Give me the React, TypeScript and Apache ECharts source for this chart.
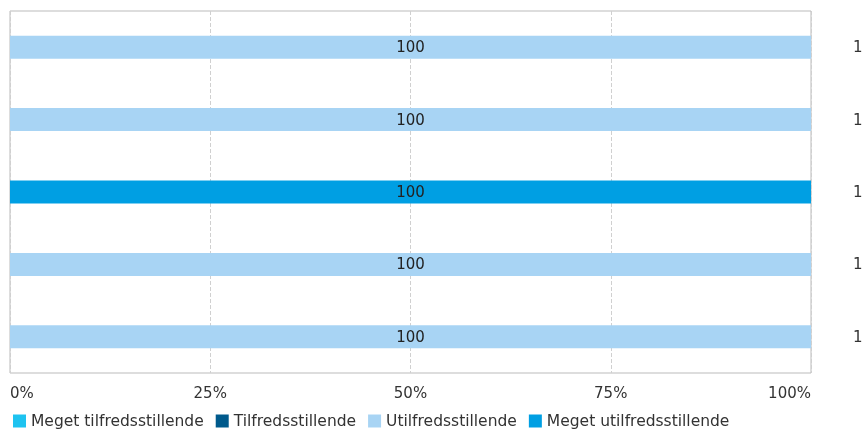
import React, { useEffect, useRef } from "react";
import * as echarts from "echarts";

const categories = ["Spørgsmål 1", "Spørgsmål 2", "Spørgsmål 3", "Spørgsmål 4", "Spørgsmål 5"];
const seriesNames = ["Meget tilfredsstillende", "Tilfredsstillende", "Utilfredsstillende", "Meget utilfredsstillende"];
const megetTilfreds = [0, 0, 0, 0, 0];
const tilfreds = [0, 0, 0, 0, 0];
const utilfreds = [100, 100, 0, 100, 100];
const megetUtilfreds = [0, 0, 100, 0, 0];
const counts = ["1", "1", "1", "1", "1"];
const xTicks = [0, 25, 50, 75, 100];
const colors = ["#1ec3f0", "#005a8c", "#a8d4f4", "#009fe3"];

export default function App() {
  const ref = useRef<HTMLDivElement>(null);
  useEffect(() => {
    if (!ref.current) return;
    const chart = echarts.init(ref.current, null, { renderer: "svg" });
    const values = [megetTilfreds, tilfreds, utilfreds, megetUtilfreds];
    chart.setOption({
      animation: false,
      color: colors,
      textStyle: { fontFamily: "DejaVu Sans" },
      grid: {
        left: 10, right: 54, top: 11, bottom: 57,
        containLabel: false, outerBoundsMode: "none",
        show: true, borderColor: "#bbbbbb", borderWidth: 1,
      },
      legend: {
        top: 408,
        left: 8,
        itemWidth: 13,
        itemHeight: 13,
        itemGap: 12,
        icon: "rect",
        textStyle: { fontSize: 15.5, color: "#333", fontFamily: "DejaVu Sans" },
        data: seriesNames,
      },
      xAxis: {
        type: "value",
        min: xTicks[0],
        max: xTicks[xTicks.length - 1],
        interval: 25,
        axisLine: { show: false },
        axisTick: { show: false },
        splitLine: { show: true, lineStyle: { type: "dashed", color: "#d0d0d0" } },
        axisLabel: {
          fontSize: 15, color: "#333", margin: 12, fontFamily: "DejaVu Sans",
          alignMinLabel: "left", alignMaxLabel: "right",
          formatter: (v: number) => (xTicks.includes(v) ? v + "%" : ""),
        },
      },
      yAxis: [
        {
          type: "category",
          data: categories,
          inverse: true,
          axisLine: { show: false },
          axisTick: { show: false },
          axisLabel: { show: false },
        },
        {
          type: "category",
          data: counts,
          inverse: true,
          position: "right",
          axisLine: { show: false },
          axisTick: { show: false },
          axisLabel: { show: true, margin: 42, fontSize: 15, color: "#333", fontFamily: "DejaVu Sans" },
        },
      ],
      series: seriesNames.map((name, i) => ({
        name,
        type: "bar",
        stack: "total",
        barWidth: 23,
        data: values[i],
        label: {
          show: true,
          position: "inside",
          color: "#222",
          fontSize: 15,
          fontFamily: "DejaVu Sans",
          formatter: (p: any) => (p.value > 0 ? String(p.value) : ""),
        },
      })),
    });
    return () => chart.dispose();
  }, []);
  return <div ref={ref} style={{ position: "fixed", left: 0, top: 0, width: 865, height: 430 }} />;
}
